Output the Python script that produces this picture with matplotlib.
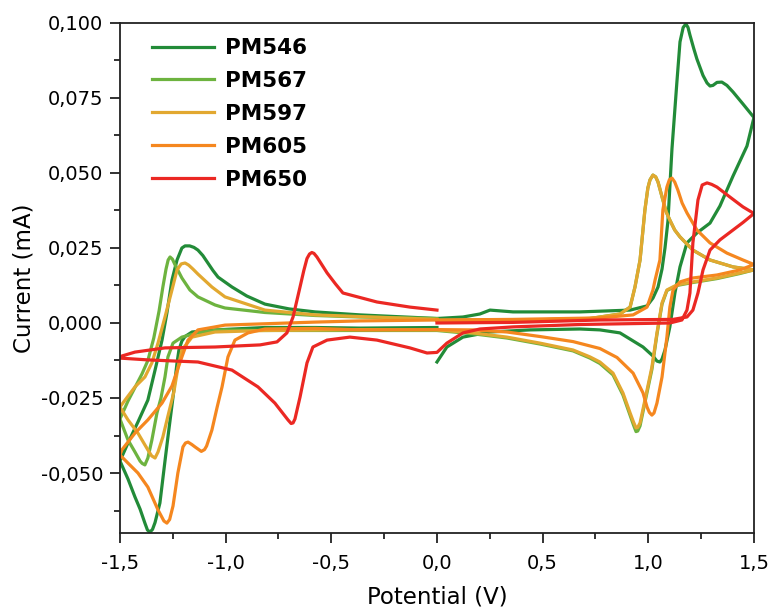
import matplotlib
matplotlib.use("Agg")
import matplotlib.pyplot as plt
from matplotlib.ticker import FuncFormatter, MultipleLocator

plt.rcParams['font.family'] = ['DejaVu Sans']
plt.rcParams['axes.unicode_minus'] = False

labels = ["PM546", "PM567", "PM597", "PM605", "PM650"]
colors = ["#228b38", "#6db33f", "#e2a830", "#f5871f", "#eb2823"]

# PM546 - potential (V) / current (mA), traced as drawn
pm546_v = [0.0, -0.364, -0.577, -0.814, -1.050, -1.159, -1.192, -1.207, -1.221, -1.230,
           -1.249, -1.273, -1.287, -1.311, -1.334, -1.346, -1.358, -1.370, -1.382, -1.405, -1.429, -1.462, -1.500,
           -1.462, -1.415, -1.368, -1.334, -1.301, -1.278, -1.254, -1.230, -1.207, -1.192, -1.170,
           -1.150, -1.131, -1.108, -1.084, -1.060, -1.036, -0.970, -0.900, -0.814, -0.700, -0.577, -0.364, 0.0,
           0.123, 0.203, 0.251, 0.360, 0.677, 0.914, 0.994, 1.022, 1.046, 1.065, 1.079, 1.093,
           1.112, 1.135, 1.150, 1.165, 1.178, 1.188, 1.197, 1.215, 1.230, 1.259, 1.278, 1.292, 1.306,
           1.325, 1.348, 1.372, 1.401, 1.448, 1.500,
           1.467, 1.401, 1.339, 1.292, 1.230, 1.183, 1.150, 1.126, 1.102, 1.079, 1.065, 1.055, 1.041,
           1.022, 0.975, 0.866, 0.771, 0.677, 0.440, 0.251, 0.123, 0.047, 0.0]
pm546_i = [-0.0015, -0.0017, -0.0015, -0.0015, -0.0023, -0.0030, -0.0045, -0.0060, -0.0090, -0.0133,
           -0.0247, -0.0380, -0.0460, -0.0600, -0.0665, -0.0688, -0.0697, -0.0690, -0.0667, -0.0620, -0.0580,
           -0.0520, -0.0460,
           -0.0400, -0.0330, -0.0257, -0.0157, -0.0057, 0.0033, 0.0143, 0.0210, 0.0250, 0.0257, 0.0257,
           0.0252, 0.0243, 0.0225, 0.0200, 0.0175, 0.0153, 0.0120, 0.0090, 0.0063, 0.0047, 0.0037, 0.0027, 0.0015,
           0.0020, 0.0030, 0.0043, 0.0037, 0.0037, 0.0043, 0.0057, 0.0083, 0.0120, 0.0180, 0.0250, 0.0340,
           0.0580, 0.0800, 0.0937, 0.0985, 0.0997, 0.0985, 0.0960, 0.0915, 0.0880, 0.0825, 0.0800, 0.0790, 0.0792,
           0.0802, 0.0803, 0.0792, 0.0770, 0.0730, 0.0685,
           0.0590, 0.0490, 0.0390, 0.0333, 0.0300, 0.0267, 0.0187, 0.0100, -0.0013, -0.0090, -0.0120, -0.0130,
           -0.0127, -0.0110, -0.0080, -0.0033, -0.0023, -0.0020, -0.0023, -0.0030, -0.0047, -0.0080, -0.0130]

# PM567
pm567_v = [0.0, 0.440, 0.724, 0.866, 0.914, 0.937, 0.961, 0.984, 0.998, 1.008, 1.022, 1.035, 1.046,
           1.069, 1.085, 1.102, 1.125, 1.150, 1.211, 1.292, 1.401, 1.500,
           1.434, 1.325, 1.211, 1.135, 1.088, 1.065, 1.041, 1.017, 0.984, 0.961, 0.950, 0.942, 0.930, 0.914,
           0.880, 0.833, 0.771, 0.724, 0.644, 0.487, 0.331, 0.170, 0.0,
           -0.364, -0.814, -1.036, -1.131, -1.207, -1.249, -1.273, -1.287, -1.306, -1.325, -1.349,
           -1.368, -1.382, -1.395, -1.405, -1.429, -1.462, -1.500,
           -1.462, -1.429, -1.396, -1.368, -1.340, -1.315, -1.297, -1.282, -1.272, -1.263, -1.252, -1.240,
           -1.207, -1.169, -1.131, -1.050, -1.003, -0.814, -0.577, -0.364, 0.0]
pm567_i = [0.0010, 0.0010, 0.0015, 0.0030, 0.0053, 0.0120, 0.0210, 0.0377, 0.0450, 0.0477, 0.0493, 0.0487,
           0.0470, 0.0410, 0.0370, 0.0343, 0.0310, 0.0287, 0.0243, 0.0210, 0.0187, 0.0177,
           0.0165, 0.0148, 0.0135, 0.0125, 0.0108, 0.0063, -0.0038, -0.0155, -0.0265, -0.0343, -0.0360, -0.0362,
           -0.0340, -0.0308,
           -0.0240, -0.0173, -0.0135, -0.0117, -0.0093, -0.0070, -0.0050, -0.0036, -0.0025,
           -0.0025, -0.0025, -0.0023, -0.0033, -0.0047, -0.0067, -0.0113, -0.0180, -0.0250, -0.0300, -0.0390,
           -0.0450, -0.0473, -0.0468, -0.0460, -0.0430, -0.0390, -0.0320,
           -0.0260, -0.0215, -0.0170, -0.0125, -0.0050, 0.0040, 0.0120, 0.0180, 0.0210, 0.0220, 0.0213, 0.0195,
           0.0150, 0.0110, 0.0087, 0.0060, 0.0050, 0.0035, 0.0025, 0.0020, 0.0015]

# PM597
pm597_v = [0.0, 0.440, 0.724, 0.866, 0.914, 0.937, 0.961, 0.984, 0.998, 1.008, 1.022, 1.035, 1.046,
           1.069, 1.085, 1.102, 1.125, 1.150, 1.211, 1.292, 1.401, 1.500,
           1.434, 1.325, 1.211, 1.135, 1.088, 1.065, 1.041, 1.017, 0.984, 0.961, 0.950, 0.942, 0.930, 0.914,
           0.880, 0.833, 0.771, 0.724, 0.644, 0.487, 0.331, 0.170, 0.0,
           -0.364, -0.814, -1.050, -1.159, -1.207, -1.226, -1.245, -1.273, -1.297, -1.320, -1.334,
           -1.350, -1.368, -1.415, -1.462, -1.500,
           -1.476, -1.429, -1.382, -1.349, -1.320, -1.287, -1.254, -1.230, -1.210, -1.192, -1.175,
           -1.155, -1.131, -1.065, -1.003, -0.814, -0.577, 0.0]
pm597_i = [0.0008, 0.0010, 0.0015, 0.0030, 0.0053, 0.0120, 0.0210, 0.0377, 0.0450, 0.0477, 0.0493, 0.0487,
           0.0470, 0.0410, 0.0370, 0.0343, 0.0310, 0.0287, 0.0243, 0.0210, 0.0187, 0.0177,
           0.0167, 0.0150, 0.0137, 0.0127, 0.0110, 0.0067, -0.0033, -0.0147, -0.0257, -0.0333, -0.0348, -0.0350,
           -0.0330, -0.0300,
           -0.0233, -0.0167, -0.0130, -0.0113, -0.0090, -0.0067, -0.0047, -0.0033, -0.0023,
           -0.0022, -0.0025, -0.0030, -0.0047, -0.0090, -0.0150, -0.0230, -0.0310, -0.0380, -0.0430, -0.0450,
           -0.0443, -0.0423, -0.0367, -0.0323, -0.0280,
           -0.0257, -0.0213, -0.0180, -0.0133, -0.0067, 0.0020, 0.0110, 0.0177, 0.0197, 0.0200, 0.0193,
           0.0180, 0.0163, 0.0120, 0.0087, 0.0043, 0.0027, 0.0012]

# PM605
pm605_v = [0.0, 0.360, 0.771, 0.928, 0.994, 1.022, 1.032, 1.055, 1.069, 1.088, 1.100, 1.112, 1.125,
           1.140, 1.160, 1.183, 1.230, 1.292, 1.372, 1.448, 1.500,
           1.434, 1.325, 1.211, 1.150, 1.117, 1.102, 1.088, 1.065, 1.041, 1.027, 1.017, 1.005, 0.994, 0.975,
           0.928, 0.852, 0.771, 0.644, 0.487, 0.331, 0.170, 0.0,
           -0.364, -0.577, -0.814, -0.894, -0.956, -0.989, -1.017, -1.040, -1.065, -1.090, -1.100, -1.115,
           -1.145, -1.160, -1.178, -1.190, -1.202, -1.226, -1.249, -1.265, -1.278, -1.292, -1.320, -1.368,
           -1.415, -1.462, -1.500,
           -1.491, -1.429, -1.368, -1.301, -1.254, -1.207, -1.178, -1.131, -1.050, -1.003, -0.577,
           -0.364, 0.0]
pm605_i = [0.0010, 0.0012, 0.0017, 0.0027, 0.0053, 0.0110, 0.0143, 0.0210, 0.0377, 0.0453, 0.0478, 0.0483,
           0.0470, 0.0443, 0.0400, 0.0367, 0.0310, 0.0267, 0.0233, 0.0210, 0.0195,
           0.0177, 0.0160, 0.0150, 0.0137, 0.0110, 0.0053, -0.0047, -0.0180, -0.0267, -0.0300, -0.0307, -0.0298,
           -0.0280, -0.0233,
           -0.0167, -0.0115, -0.0085, -0.0062, -0.0045, -0.0030, -0.0023, -0.0022,
           -0.0023, -0.0018, -0.0020, -0.0033, -0.0057, -0.0113, -0.0213, -0.0280, -0.0357, -0.0410, -0.0422,
           -0.0428, -0.0413, -0.0405, -0.0397, -0.0400, -0.0413, -0.0500, -0.0610, -0.0655, -0.0667, -0.0660,
           -0.0623, -0.0547, -0.0500, -0.0467, -0.0440,
           -0.0423, -0.0367, -0.0323, -0.0267, -0.0210, -0.0113, -0.0057, -0.0023, -0.0013, -0.0007, 0.0003,
           0.0007, 0.0010]

# PM650
pm650_v = [0.0, -0.128, -0.284, -0.445, -0.480, -0.520, -0.568, -0.582, -0.592, -0.603, -0.615, -0.630,
           -0.648, -0.681, -0.710, -0.757, -0.837, -1.050, -1.287, -1.429, -1.491, -1.500,
           -1.368, -1.131, -0.970, -0.847, -0.767, -0.705, -0.690, -0.681, -0.672, -0.648, -0.615, -0.587,
           -0.520, -0.412, -0.284, -0.128, -0.047, 0.0, 0.047, 0.123, 0.203, 0.360, 0.677, 1.102, 1.159,
           1.183, 1.197, 1.211, 1.235, 1.255, 1.278, 1.300, 1.325, 1.386, 1.448, 1.500,
           1.448, 1.401, 1.339, 1.292, 1.259, 1.235, 1.211, 1.183, 1.117, 0.771, 0.360, 0.0]
pm650_i = [0.0043, 0.0053, 0.0070, 0.0100, 0.0130, 0.0167, 0.0220, 0.0232, 0.0235, 0.0230, 0.0215, 0.0175,
           0.0120, 0.0020, -0.0033, -0.0063, -0.0073, -0.0080, -0.0083, -0.0097, -0.0110, -0.0117,
           -0.0123, -0.0130, -0.0157, -0.0213, -0.0267, -0.0323, -0.0335, -0.0333, -0.0320, -0.0247, -0.0133,
           -0.0080, -0.0057, -0.0047, -0.0057, -0.0083, -0.0100, -0.0098, -0.0067, -0.0033, -0.0020, -0.0013,
           -0.0005, 0.0000, 0.0010,
           0.0043, 0.0100, 0.0267, 0.0410, 0.0460, 0.0467, 0.0462, 0.0453, 0.0420, 0.0387, 0.0365,
           0.0335, 0.0310, 0.0277, 0.0243, 0.0177, 0.0100, 0.0043, 0.0020, 0.0012, 0.0010, 0.0002, 0.0000]

curves = [(pm546_v, pm546_i), (pm567_v, pm567_i), (pm597_v, pm597_i),
          (pm605_v, pm605_i), (pm650_v, pm650_i)]

fig = plt.figure(figsize=(7.71, 6.13), dpi=100)
ax = fig.add_axes([0.1556, 0.1305, 0.8223, 0.832])

for (v, i), lab, c in zip(curves, labels, colors):
    ax.plot(v, i, color=c, lw=2.3, label=lab, solid_joinstyle='round')

ax.set_xlim(-1.5, 1.5)
ax.set_ylim(-0.070, 0.100)
ax.xaxis.set_major_locator(MultipleLocator(0.5))
ax.xaxis.set_minor_locator(MultipleLocator(0.25))
ax.yaxis.set_major_locator(MultipleLocator(0.025))
ax.yaxis.set_minor_locator(MultipleLocator(0.0125))


def comma(fmt):
    def f(v, pos):
        if abs(v) < 1e-9:
            v = 0.0
        return format(v, fmt).replace('.', ',')
    return f


ax.xaxis.set_major_formatter(FuncFormatter(comma('.1f')))
ax.yaxis.set_major_formatter(FuncFormatter(comma('.3f')))

ax.tick_params(which='major', direction='out', length=7, width=1.3, labelsize=14, colors='#222222')
ax.tick_params(which='minor', direction='out', length=4, width=1.3, colors='#222222')
ax.tick_params(axis='x', which='major', pad=8)
ax.tick_params(axis='y', which='major', pad=5)
ax.tick_params(labelcolor='black')
for s in ax.spines.values():
    s.set_linewidth(1.3)
    s.set_color('#222222')

ax.set_xlabel("Potential (V)", fontsize=16.5, labelpad=9)
ax.set_ylabel("Current (mA)", fontsize=16.5, labelpad=4)

ax.legend(loc='upper left', bbox_to_anchor=(0.026, 1.0), frameon=False, handlelength=2.9,
          handletextpad=0.5, labelspacing=0.6, borderaxespad=0.3,
          prop={'weight': 'bold', 'size': 15.5})

fig.savefig("out.png", dpi=100)
